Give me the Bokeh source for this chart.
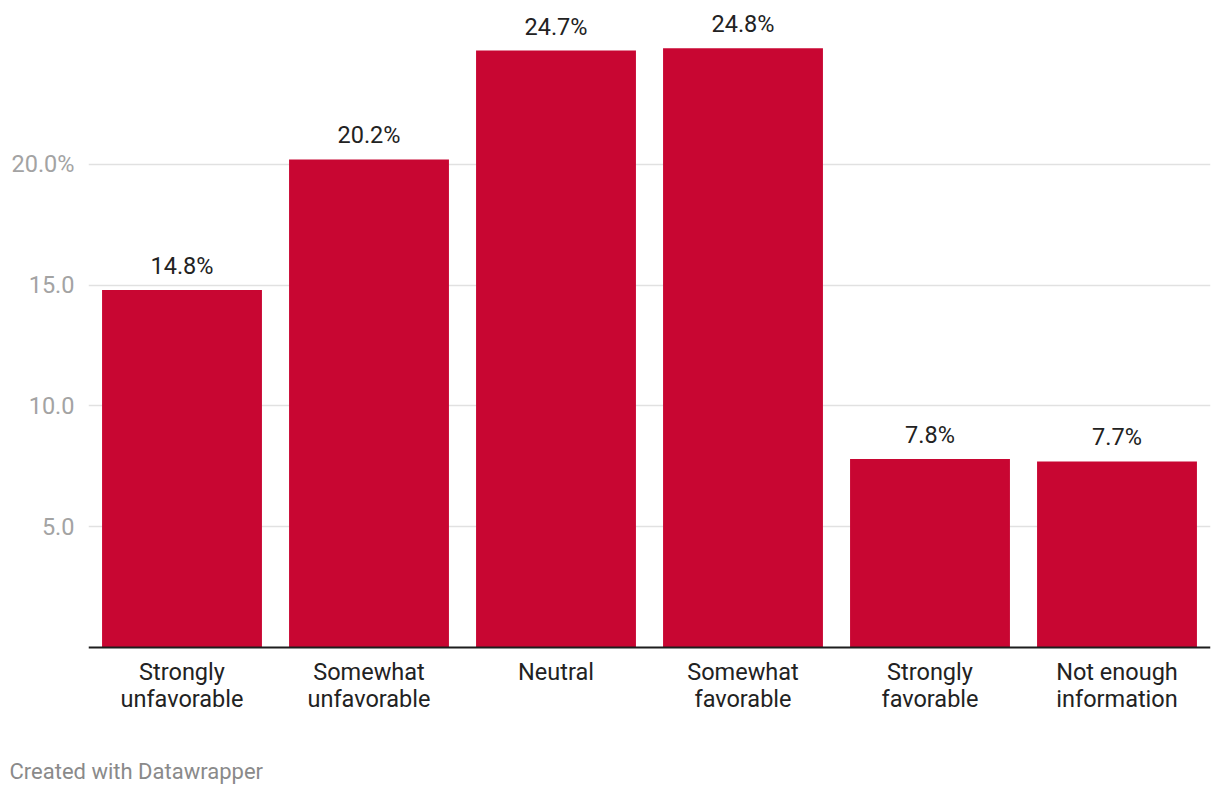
from bokeh.plotting import figure
from bokeh.models import ColumnDataSource, FactorRange, Range1d, FixedTicker, Title, Span
from bokeh.embed import file_html
from bokeh.resources import INLINE
from bokeh.core.properties import value

categories = ["Strongly unfavorable", "Somewhat unfavorable", "Neutral",
              "Somewhat favorable", "Strongly favorable", "Not enough information"]
label_line1 = ["Strongly", "Somewhat", "Neutral", "Somewhat", "Strongly", "Not enough"]
label_line2 = ["unfavorable", "unfavorable", "", "favorable", "favorable", "information"]
values = [14.8, 20.2, 24.7, 24.8, 7.8, 7.7]
value_labels = ["14.8%", "20.2%", "24.7%", "24.8%", "7.8%", "7.7%"]
y_ticks = [5, 10, 15, 20]
y_tick_labels = {5: "5.0", 10: "10.0", 15: "15.0", 20: "20.0%"}

FONT = "Roboto"
FS = "23.5px"

src = ColumnDataSource(dict(cat=categories, val=values, lab=value_labels,
                            l1=label_line1, l2=label_line2, zero=[0] * len(values)))

p = figure(width=1212, height=788, x_range=FactorRange(*categories, range_padding=0),
           y_range=Range1d(-4.30, 26.36), output_backend="svg", toolbar_location=None,
           min_border_left=88, min_border_right=2, min_border_top=10, min_border_bottom=36)
p.outline_line_color = None
p.background_fill_color = "white"
p.border_fill_color = "white"
p.xaxis.visible = False

p.vbar(x="cat", top="val", width=0.855, source=src, color="#c80632", line_color=None)
p.text(x="cat", y="val", text="lab", source=src, text_align="center", text_baseline="bottom",
       y_offset=-10, text_font=value(FONT), text_font_size=FS, text_color="#222222")

# baseline
p.add_layout(Span(location=0, dimension="width", line_color="#1d1d1d", line_width=2))

# category labels (two lines)
p.text(x="cat", y="zero", text="l1", source=src, text_align="center", text_baseline="middle",
       y_offset=24, text_font=value(FONT), text_font_size=FS, text_color="#222222")
p.text(x="cat", y="zero", text="l2", source=src, text_align="center", text_baseline="middle",
       y_offset=51, text_font=value(FONT), text_font_size=FS, text_color="#222222")

p.ygrid.ticker = FixedTicker(ticks=y_ticks)
p.ygrid.grid_line_color = "#e1e1e1"
p.ygrid.grid_line_width = 1.5
p.xgrid.grid_line_color = None

ya = p.yaxis[0]
ya.ticker = FixedTicker(ticks=y_ticks)
ya.major_label_overrides = y_tick_labels
ya.axis_line_color = None
ya.major_tick_line_color = None
ya.minor_tick_line_color = None
ya.major_label_text_font = FONT
ya.major_label_text_font_size = FS
ya.major_label_text_color = "#a3a3a3"
ya.major_label_standoff = 8

footer = Title(text="Created with Datawrapper", align="left", offset=-79,
               text_font=FONT, text_font_size="22px", text_color="#8a8a8a",
               text_font_style="normal")
p.add_layout(footer, "below")

open("out.html", "w").write(file_html(p, INLINE))
